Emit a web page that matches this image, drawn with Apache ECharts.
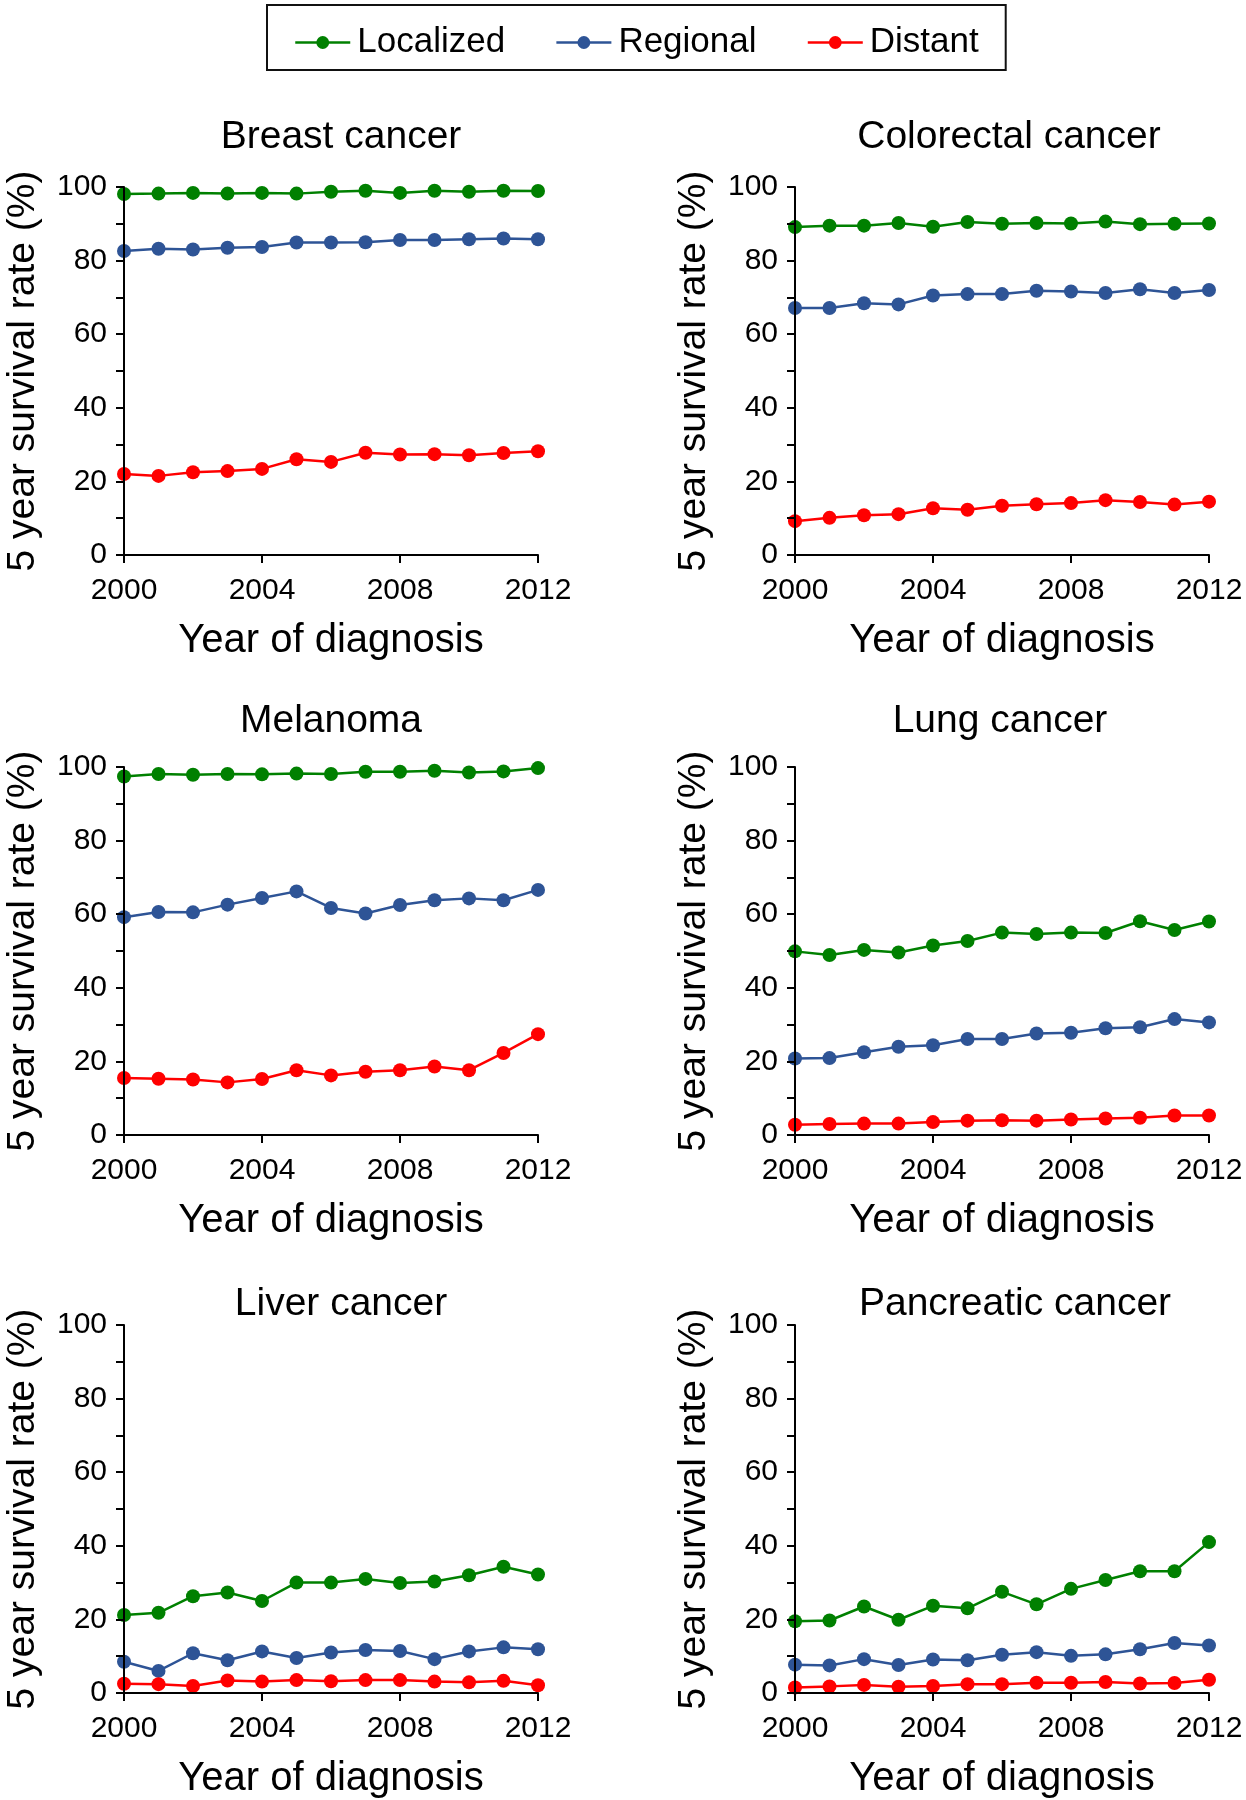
<!DOCTYPE html>
<html>
<head>
<meta charset="utf-8">
<script src="https://cdn.jsdelivr.net/npm/echarts@6/dist/echarts.min.js"></script>
<style>
  html, body { margin: 0; padding: 0; background: #fff; }
  #chart { width: 1246px; height: 1800px; }
</style>
</head>
<body>
<div id="chart"></div>
<script>
// ---- Data ----
const years = [2000, 2001, 2002, 2003, 2004, 2005, 2006, 2007, 2008, 2009, 2010, 2011, 2012];
const xTicks = [2000, 2004, 2008, 2012];
const stageNames = ['Localized', 'Regional', 'Distant'];
const panelTitles = ['Breast cancer', 'Colorectal cancer', 'Melanoma', 'Lung cancer', 'Liver cancer', 'Pancreatic cancer'];

const breastLocalized = [98.1, 98.2, 98.4, 98.2, 98.4, 98.2, 98.7, 99.0, 98.4, 99.0, 98.7, 99.0, 98.9];
const breastRegional  = [82.6, 83.2, 83.0, 83.5, 83.7, 84.9, 84.9, 85.0, 85.6, 85.6, 85.8, 86.0, 85.8];
const breastDistant   = [22.0, 21.5, 22.5, 22.8, 23.4, 26.0, 25.3, 27.8, 27.3, 27.4, 27.1, 27.7, 28.2];

const colorectalLocalized = [89.1, 89.5, 89.5, 90.2, 89.2, 90.5, 90.0, 90.2, 90.1, 90.6, 89.9, 90.0, 90.1];
const colorectalRegional  = [67.1, 67.1, 68.4, 68.1, 70.5, 70.9, 70.9, 71.8, 71.6, 71.2, 72.2, 71.2, 72.0];
const colorectalDistant   = [9.2, 10.1, 10.8, 11.1, 12.7, 12.3, 13.4, 13.8, 14.1, 14.9, 14.4, 13.7, 14.5];

const melanomaLocalized = [97.4, 98.1, 97.9, 98.1, 98.0, 98.2, 98.1, 98.7, 98.7, 99.0, 98.5, 98.8, 99.7];
const melanomaRegional  = [59.2, 60.6, 60.5, 62.6, 64.4, 66.2, 61.7, 60.2, 62.5, 63.8, 64.3, 63.8, 66.6];
const melanomaDistant   = [15.5, 15.3, 15.1, 14.3, 15.2, 17.6, 16.2, 17.2, 17.6, 18.6, 17.6, 22.3, 27.4];

const lungLocalized = [49.9, 48.9, 50.3, 49.6, 51.5, 52.7, 55.0, 54.6, 55.0, 54.9, 58.1, 55.7, 58.0];
const lungRegional  = [20.8, 20.9, 22.5, 24.0, 24.4, 26.1, 26.1, 27.6, 27.8, 29.0, 29.3, 31.5, 30.6];
const lungDistant   = [2.8, 3.0, 3.1, 3.1, 3.5, 3.9, 4.0, 3.9, 4.2, 4.5, 4.7, 5.3, 5.3];

const liverLocalized = [21.2, 21.8, 26.3, 27.3, 25.0, 30.0, 30.0, 31.0, 29.9, 30.3, 32.0, 34.3, 32.2];
const liverRegional  = [8.5, 6.0, 10.8, 8.9, 11.3, 9.5, 11.0, 11.7, 11.4, 9.2, 11.3, 12.4, 11.9];
const liverDistant   = [2.5, 2.4, 1.9, 3.4, 3.1, 3.5, 3.2, 3.5, 3.5, 3.1, 2.9, 3.3, 2.1];

const pancreaticLocalized = [19.5, 19.7, 23.5, 19.9, 23.7, 23.0, 27.5, 24.1, 28.3, 30.7, 33.1, 33.1, 41.0];
const pancreaticRegional  = [7.7, 7.5, 9.2, 7.6, 9.1, 8.9, 10.4, 11.1, 10.1, 10.5, 11.9, 13.6, 12.9];
const pancreaticDistant   = [1.5, 1.8, 2.2, 1.7, 1.9, 2.4, 2.4, 2.8, 2.8, 3.0, 2.6, 2.7, 3.6];

const panelData = [
  [breastLocalized, breastRegional, breastDistant],
  [colorectalLocalized, colorectalRegional, colorectalDistant],
  [melanomaLocalized, melanomaRegional, melanomaDistant],
  [lungLocalized, lungRegional, lungDistant],
  [liverLocalized, liverRegional, liverDistant],
  [pancreaticLocalized, pancreaticRegional, pancreaticDistant]
];

// ---- Layout & style ----
const FONT = "'Liberation Sans', Arial, Helvetica, sans-serif";
const stageColors = ['#008000', '#2E5496', '#FF0000'];
const colLeft = [124, 795];
const rowTop = [187, 767, 1325];
const rowHeight = [368, 368, 370];
const plotWidth = 414;
const titleCenters = [341, 1009, 331, 1000, 341, 1015];
const titleTops = [118, 702, 1285];

const grids = [], xAxes = [], yAxes = [], series = [], titles = [];
for (let p = 0; p < 6; p++) {
  const r = Math.floor(p / 2), c = p % 2;
  grids.push({ left: colLeft[c], top: rowTop[r], width: plotWidth, height: rowHeight[r], containLabel: false });
  titles.push({
    text: panelTitles[p], left: titleCenters[p], top: titleTops[r], padding: 0,
    textAlign: 'center', textVerticalAlign: 'top',
    textStyle: { fontFamily: FONT, fontSize: 39, fontWeight: 'normal', color: '#000' }
  });
  xAxes.push({
    type: 'value', gridIndex: p, min: xTicks[0], max: xTicks[xTicks.length - 1], interval: 4,
    name: 'Year of diagnosis', nameLocation: 'middle', nameGap: 66,
    nameTextStyle: { fontFamily: FONT, fontSize: 40, color: '#000' },
    axisLine: { show: true, onZero: false, lineStyle: { color: '#000', width: 2 } },
    axisTick: { show: true, length: 8, lineStyle: { color: '#000', width: 2 } },
    axisLabel: { fontFamily: FONT, fontSize: 30, color: '#000', margin: 21, formatter: v => String(v) },
    splitLine: { show: false }, z: 5
  });
  yAxes.push({
    type: 'value', gridIndex: p, min: 0, max: 100, interval: 10,
    name: '5 year survival rate (%)', nameLocation: 'middle', nameGap: 81, nameRotate: 90,
    nameTextStyle: { fontFamily: FONT, fontSize: 39, color: '#000' },
    axisLine: { show: true, onZero: false, lineStyle: { color: '#000', width: 2 } },
    axisTick: { show: true, length: 8, lineStyle: { color: '#000', width: 2 } },
    axisLabel: { fontFamily: FONT, fontSize: 30, color: '#000', margin: 17,
      formatter: v => (v % 20 === 0 ? String(v) : '') },
    splitLine: { show: false }, z: 5
  });
  for (let s = 0; s < 3; s++) {
    series.push({
      type: 'line', name: stageNames[s], xAxisIndex: p, yAxisIndex: p,
      data: years.map((y, i) => [y, panelData[p][s][i]]),
      symbol: 'circle', symbolSize: 14, clip: false,
      lineStyle: { color: stageColors[s], width: 2.5 },
      itemStyle: { color: stageColors[s] },
      emphasis: { disabled: true }, animation: false
    });
  }
}

const chart = echarts.init(document.getElementById('chart'), null, { renderer: 'canvas' });
chart.setOption({
  animation: false,
  backgroundColor: '#fff',
  title: titles,
  legend: {
    data: stageNames, left: 267, top: 5, orient: 'horizontal',
    padding: [20, 27, 10, 27], itemGap: 50, itemWidth: 55, itemHeight: 16,
    borderColor: '#111', borderWidth: 2,
    lineStyle: { width: 2.5 },
    textStyle: { fontFamily: FONT, fontSize: 35, color: '#000', padding: [0, 0, 0, 2] }
  },
  grid: grids, xAxis: xAxes, yAxis: yAxes, series: series
});
</script>
</body>
</html>
